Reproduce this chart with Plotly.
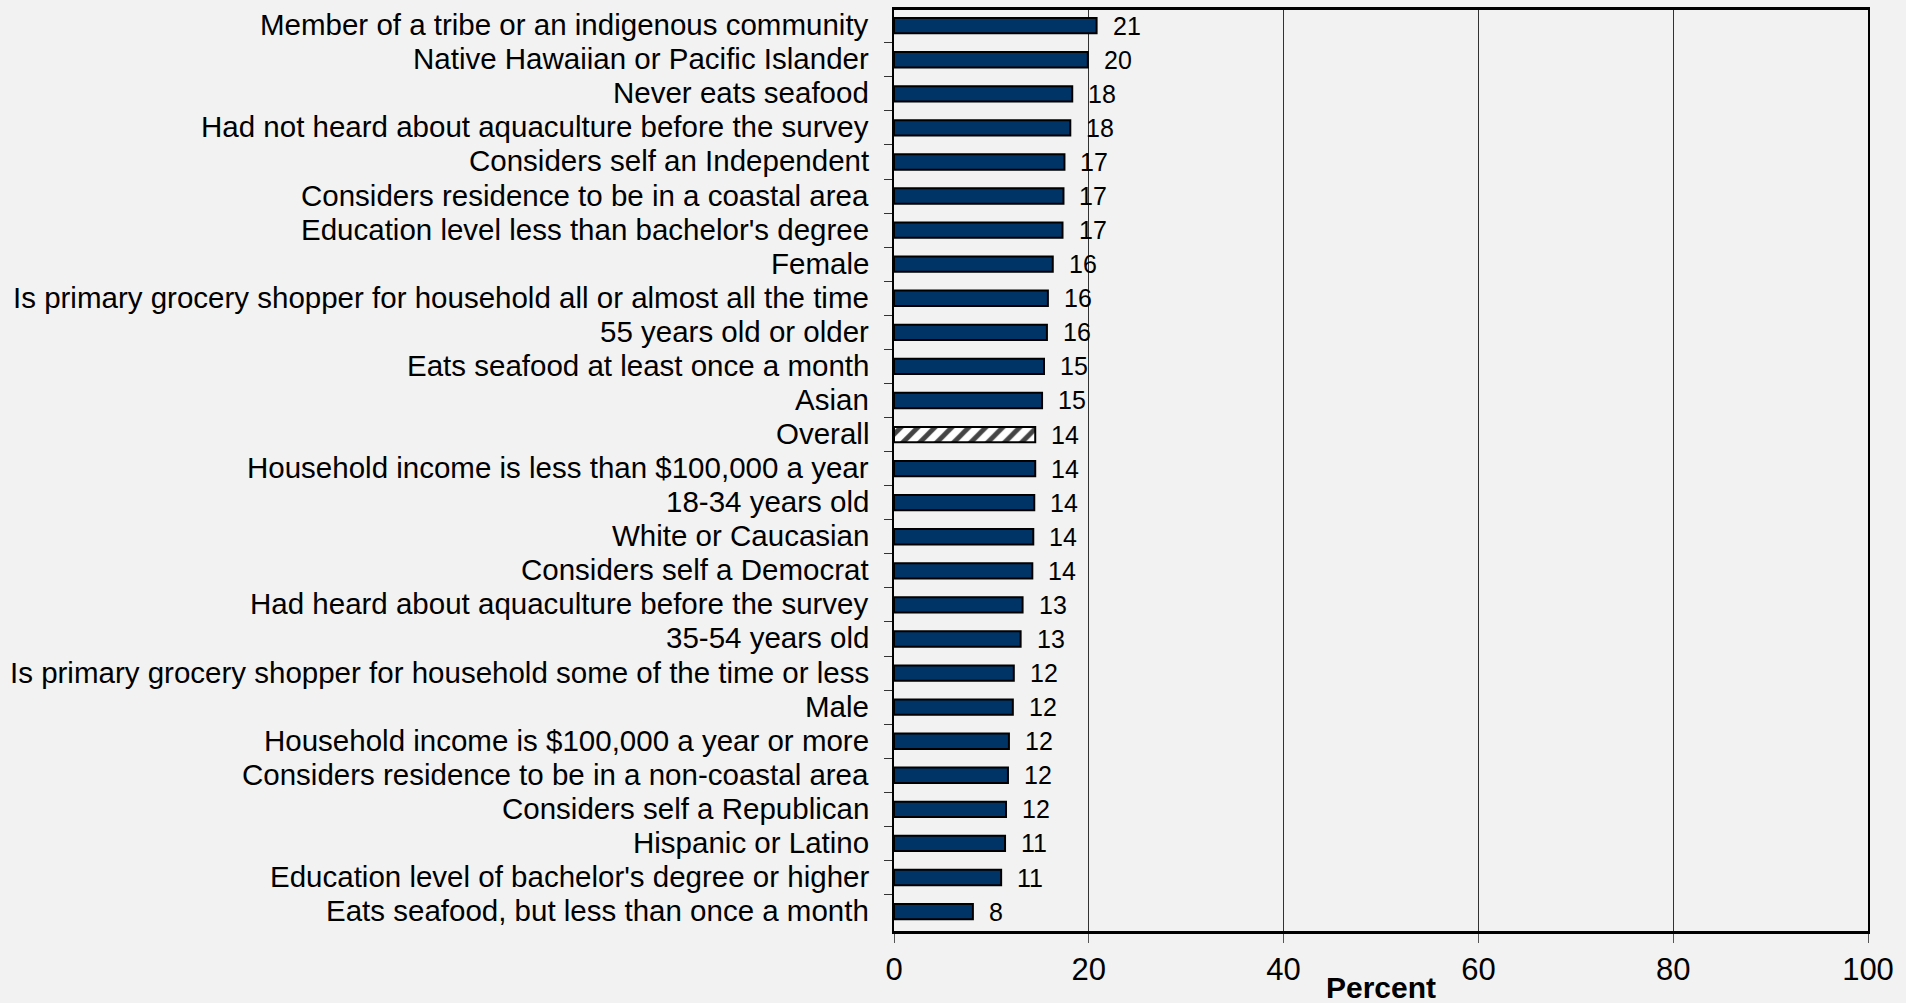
import plotly.graph_objects as go

categories = [
    "Member of a tribe or an indigenous community",
    "Native Hawaiian or Pacific Islander",
    "Never eats seafood",
    "Had not heard about aquaculture before the survey",
    "Considers self an Independent",
    "Considers residence to be in a coastal area",
    "Education level less than bachelor's degree",
    "Female",
    "Is primary grocery shopper for household all or almost all the time",
    "55 years old or older",
    "Eats seafood at least once a month",
    "Asian",
    "Overall",
    "Household income is less than $100,000 a year",
    "18-34 years old",
    "White or Caucasian",
    "Considers self a Democrat",
    "Had heard about aquaculture before the survey",
    "35-54 years old",
    "Is primary grocery shopper for household some of the time or less",
    "Male",
    "Household income is $100,000 a year or more",
    "Considers residence to be in a non-coastal area",
    "Considers self a Republican",
    "Hispanic or Latino",
    "Education level of bachelor's degree or higher",
    "Eats seafood, but less than once a month",
]
values = [20.8, 19.9, 18.3, 18.1, 17.5, 17.4, 17.3, 16.3, 15.8, 15.7, 15.4, 15.2,
          14.5, 14.5, 14.4, 14.3, 14.2, 13.2, 13.0, 12.3, 12.2, 11.8, 11.7, 11.5,
          11.4, 11.0, 8.1]
labels = [21, 20, 18, 18, 17, 17, 17, 16, 16, 16, 15, 15, 14, 14, 14, 14, 14,
          13, 13, 12, 12, 12, 12, 12, 11, 11, 8]
x_ticks = [0, 20, 40, 60, 80, 100]

NAVY = "#003366"
FONT = "Liberation Sans, Arial, sans-serif"

is_overall = [c == "Overall" for c in categories]
colors = ["white" if o else NAVY for o in is_overall]
shapes = ["/" if o else "" for o in is_overall]

fig = go.Figure()
fig.add_trace(go.Bar(
    y=categories, x=values, orientation="h",
    marker=dict(color=colors, line=dict(color="black", width=2),
                pattern=dict(shape=shapes, fgcolor=NAVY, bgcolor="white",
                             fillmode="overlay", fgopacity=1,
                             size=12, solidity=0.4)),
    width=0.45,
    hoverinfo="skip",
))

# value labels
for c, v, lab in zip(categories, values, labels):
    fig.add_annotation(x=v, y=c, text=str(lab), showarrow=False,
                       xanchor="left", xshift=14, yshift=0,
                       font=dict(family=FONT, size=25, color="black"))

# category labels
for c in categories:
    fig.add_annotation(x=0, xref="paper", y=c, yref="y", text=c, showarrow=False,
                       xanchor="right", xshift=-23, yshift=1,
                       font=dict(family=FONT, size=29.5, color="black"))

fig.add_annotation(x=0.5, y=0, xref="paper", yref="paper", yshift=-56,
                   text="<b>Percent</b>", showarrow=False, yanchor="middle",
                   font=dict(family=FONT, size=30, color="black"))

fig.update_layout(
    width=1906, height=1003,
    margin=dict(l=894, r=38, t=7, b=72),
    paper_bgcolor="#f2f2f2", plot_bgcolor="#f2f2f2",
    showlegend=False,
    font=dict(family=FONT, color="black"),
    bargap=0.55,
)
fig.update_xaxes(
    range=[0, 100], tickvals=x_ticks, ticktext=[str(t) for t in x_ticks],
    showgrid=True, gridcolor="#333333", gridwidth=1,
    showline=True, linecolor="black", linewidth=3, mirror=True,
    ticks="outside", ticklen=9, tickcolor="#555555", tickwidth=1,
    tickfont=dict(family=FONT, size=31, color="black"),
    ticklabelstandoff=0, zeroline=False, fixedrange=True,
)
fig.update_yaxes(
    categoryorder="array", categoryarray=categories,
    range=[len(categories) - 0.43, -0.46],
    showline=True, linecolor="black", linewidth=2, mirror=True,
    ticks="outside", ticklen=8, tickcolor="#333333", tickwidth=1,
    tickson="boundaries", showticklabels=False,
    showgrid=False, fixedrange=True,
)

fig.write_html(
    "out.html",
    config={"displayModeBar": False},
    post_script="document.body.style.margin='0';document.body.style.background='#f2f2f2';",
)
